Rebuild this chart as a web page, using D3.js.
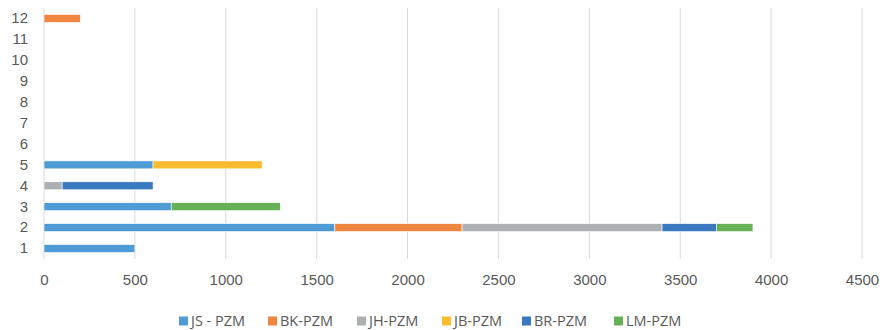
<!DOCTYPE html>
<html>
<head>
<meta charset="utf-8">
<script src="https://cdn.jsdelivr.net/npm/d3@7"></script>
<style>
  html, body { margin: 0; padding: 0; background: #fff; }
  svg { display: block; font-family: "Open Sans", "Liberation Sans", sans-serif; }
</style>
</head>
<body>
<svg id="chart" width="882" height="330"></svg>
<script>
// Categories (bottom to top) and the stacked series
const categories = ["1", "2", "3", "4", "5", "6", "7", "8", "9", "10", "11", "12"];
const seriesNames = ["JS - PZM", "BK-PZM", "JH-PZM", "JB-PZM", "BR-PZM", "LM-PZM"];
const jsPzm = [500, 1600, 700, 0, 600, 0, 0, 0, 0, 0, 0, 0];
const bkPzm = [0, 700, 0, 0, 0, 0, 0, 0, 0, 0, 0, 200];
const jhPzm = [0, 1100, 0, 100, 0, 0, 0, 0, 0, 0, 0, 0];
const jbPzm = [0, 0, 0, 0, 600, 0, 0, 0, 0, 0, 0, 0];
const brPzm = [0, 300, 0, 500, 0, 0, 0, 0, 0, 0, 0, 0];
const lmPzm = [0, 200, 600, 0, 0, 0, 0, 0, 0, 0, 0, 0];
const xTicks = [0, 500, 1000, 1500, 2000, 2500, 3000, 3500, 4000, 4500];
const colors = ["#4e9bd6", "#f0863f", "#adb0b3", "#fdbb2f", "#3a78c0", "#66b055"];

(function () {
  const seriesValues = [jsPzm, bkPzm, jhPzm, jbPzm, brPzm, lmPzm];
  const rows = categories.map((c, i) => {
    const r = { cat: c };
    seriesNames.forEach((s, k) => { r[s] = seriesValues[k][i]; });
    return r;
  });

  const svg = d3.select("#chart");
  const plotLeft = 44, plotRight = 862, plotTop = 8, plotBottom = 259;

  const x = d3.scaleLinear().domain([0, 4500]).range([plotLeft, plotRight]);
  const y = d3.scaleBand().domain(categories.slice().reverse())
    .range([plotTop, plotBottom]).paddingInner(0.62).paddingOuter(0.31);

  // Vertical gridlines
  svg.append("g")
    .selectAll("line")
    .data(xTicks)
    .join("line")
    .attr("x1", d => x(d)).attr("x2", d => x(d))
    .attr("y1", plotTop).attr("y2", plotBottom)
    .attr("stroke", "#d9d9d9").attr("stroke-width", 1);

  // Stacked bars
  const stack = d3.stack().keys(seriesNames)(rows);
  svg.append("g")
    .selectAll("g")
    .data(stack)
    .join("g")
    .attr("fill", (d, i) => colors[i])
    .selectAll("rect")
    .data(d => d.filter(p => p[1] - p[0] > 0))
    .join("rect")
    .attr("x", d => x(d[0]))
    .attr("width", d => x(d[1]) - x(d[0]))
    .attr("y", d => y(d.data.cat))
    .attr("height", y.bandwidth())
    .attr("stroke", "#fff").attr("stroke-width", 0.6);

  // X axis labels
  const xAxis = svg.append("g")
    .attr("transform", `translate(0,${plotBottom})`)
    .call(d3.axisBottom(x).tickValues(xTicks).tickSize(0).tickPadding(15).tickFormat(d3.format("d")));
  xAxis.select(".domain").remove();
  xAxis.selectAll("text").attr("fill", "#595959").style("font-size", "15px");

  // Y axis labels
  const yAxis = svg.append("g")
    .attr("transform", `translate(${plotLeft},0)`)
    .call(d3.axisLeft(y).tickSize(0).tickPadding(16));
  yAxis.select(".domain").remove();
  yAxis.selectAll("text").attr("fill", "#595959").style("font-size", "15px");

  // Legend
  const legendX = [179, 268, 357, 442, 522, 614];
  const legend = svg.append("g");
  seriesNames.forEach((s, i) => {
    const g = legend.append("g").attr("transform", `translate(${legendX[i]},321)`);
    g.append("rect").attr("x", 0).attr("y", -4.5).attr("width", 9).attr("height", 9).attr("fill", colors[i]);
    g.append("text").attr("x", 12).attr("y", 0).attr("dy", "0.34em")
      .attr("fill", "#595959").style("font-size", "14.5px").text(s);
  });
})();
</script>
</body>
</html>
